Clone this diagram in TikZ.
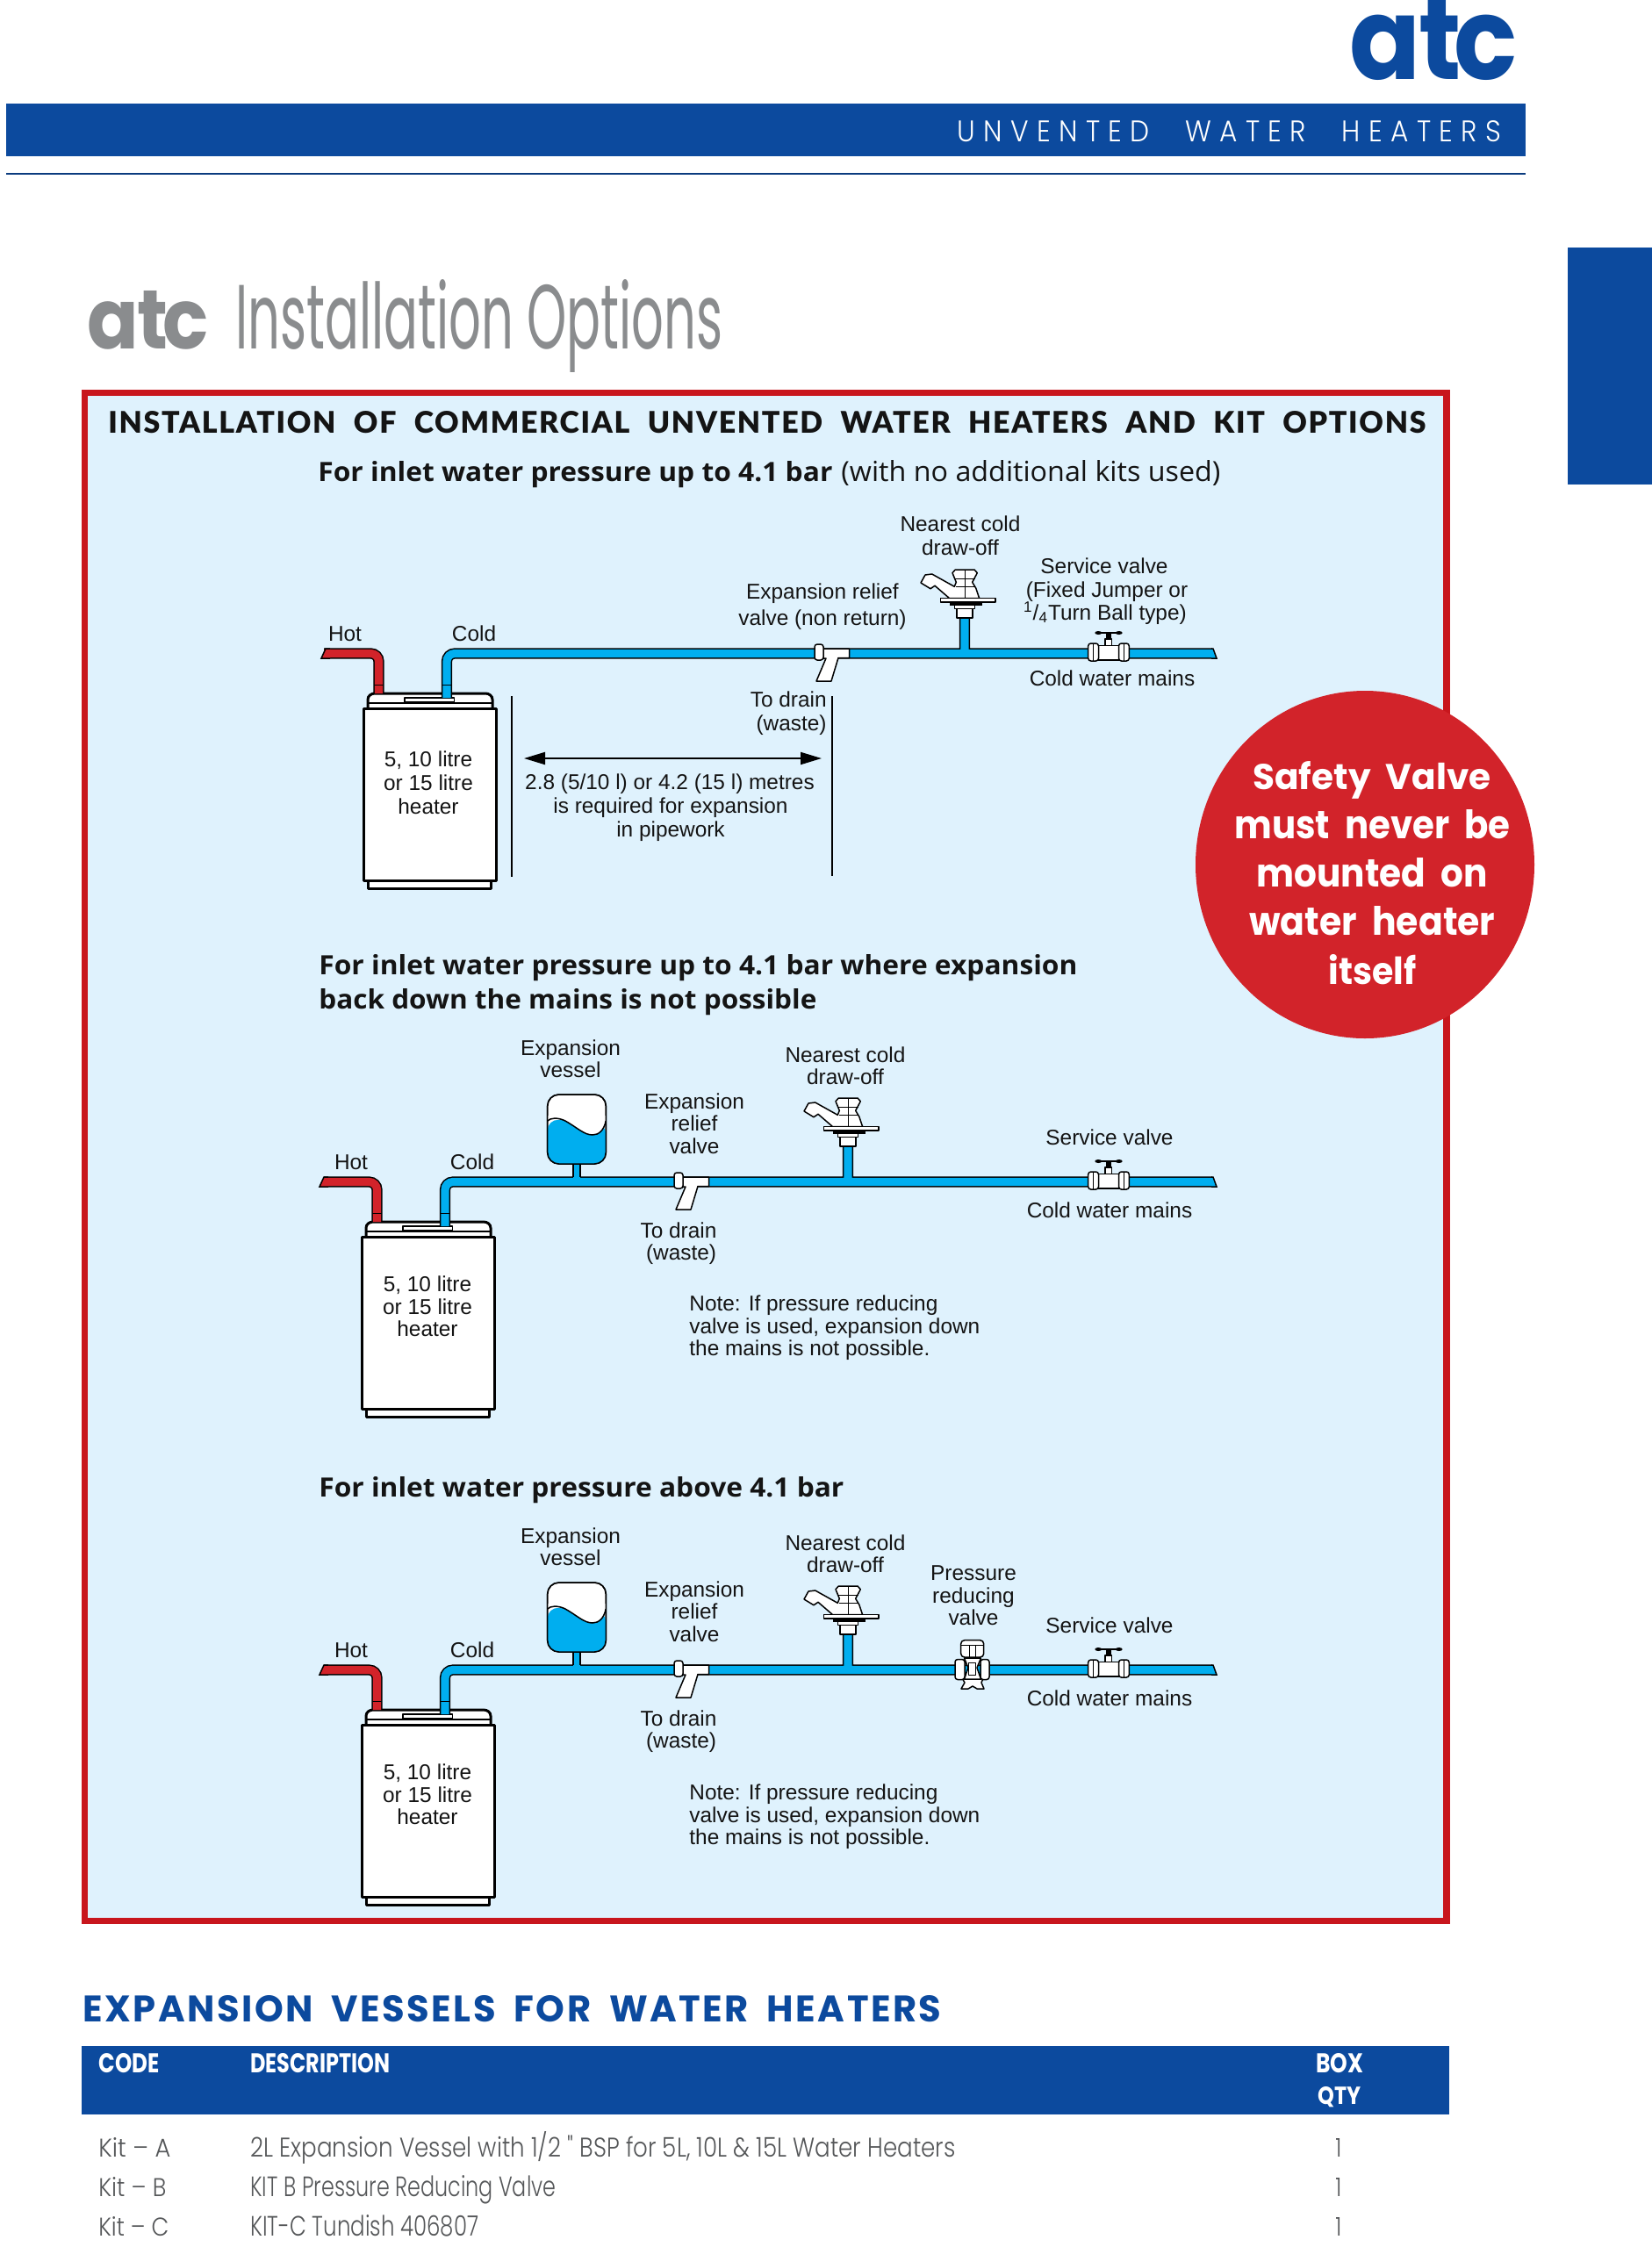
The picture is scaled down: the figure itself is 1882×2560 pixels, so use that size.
\documentclass[tikz,border=0pt]{standalone}
\usepackage{fontspec}
\usepackage{graphicx}
\usetikzlibrary{arrows.meta}
\setmainfont{Liberation Sans}
\newfontfamily\labf{Liberation Sans}
\newfontfamily\popn{Poppins}
\newfontfamily\popl{Poppins Light}
\newfontfamily\popls[LetterSpace=30]{Poppins Light}
\newfontfamily\popsp[LetterSpace=6]{Poppins}
\newfontfamily\headf{Open Sans}
\newfontfamily\latoblk[LetterSpace=5]{Lato Black}
\newlength\pxu \setlength\pxu{0.5pt}
\newcommand\ft[3]{\resizebox{#1\pxu}{#2\pxu}{#3}}
\newcommand\mylab[4]{\node[lbl] (#1) at (#2,#3) {#4};}
\newcommand\wg[1]{\hspace*{#1em}}
\definecolor{atcblue}{HTML}{0C4A9E}
\definecolor{framered}{HTML}{C8161D}
\definecolor{discred}{HTML}{D2232A}
\definecolor{panel}{HTML}{DFF2FD}
\definecolor{water}{HTML}{00AEEF}
\definecolor{hotred}{HTML}{D2232A}
\definecolor{greytxt}{HTML}{8A8C8E}
\definecolor{bodytxt}{HTML}{555759}
\tikzset{
 lbl/.style={inner sep=0,anchor=base,text=black!92,font={\labf\fontsize{12.2}{13}\selectfont}},
 fitw/.style={inner sep=0,anchor=base west},
 part/.style={draw=black,fill=white,line width=0.75pt,line join=round},
 tank/.style={draw=black,fill=white,line width=1.5pt,line join=round},
 coldpipe/.style={line width=0.75pt,draw=black,double=water,double distance=4.6pt,rounded corners=4.5pt},
 hotpipe/.style={line width=0.75pt,draw=black,double=hotred,double distance=4.6pt,rounded corners=4.5pt},
 thinln/.style={draw=black,line width=0.6pt},
 heater/.pic={
  \draw[tank] (419,68) -- (419,58) to[out=90,in=180] (427,51) -- (553,51) to[out=0,in=90] (561,58) -- (561,68);
  \draw[part] (461,56) rectangle (517.5,61);
  \draw[line width=0.6pt] (419,62) -- (561,62);
  \draw[tank] (414,68) rectangle (565,264);
  \draw[tank] (419,264) rectangle (559,273);
 },
 faucet/.pic={
  \draw[part] (-9,-46) rectangle (9,-35);
  \draw[part] (-11.7,-50) rectangle (11.7,-45.7);
  \draw[draw=black,fill=black] (-17,-53) rectangle (19,-50);
  \draw[part] (-10.7,-90) -- (11,-90) -- (14.3,-86.3) -- (8.7,-75.7) -- (12.7,-69) -- (16.7,-57.3)
     -- (-17.3,-57.3) -- (-34,-71.7) -- (-39,-68.3) -- (-50,-75) -- (-45,-84) -- (-37.3,-85)
     -- (-11.7,-70.7) -- (-9.7,-75.7) -- (-14,-86.3) -- cycle;
  \draw[line width=0.4pt] (0,-90) -- (0,-58) (-12,-80) -- (12,-80) (-10,-71) -- (11,-71);
  \draw[part] (-27.3,-57.3) rectangle (35,-53);
 },
 reliefv/.pic={
  \draw[part] (9,0) -- (39.5,0) -- (39.5,10.5) -- (27,10.5) -- (19,37) -- (2,37) -- (13,11) -- (9,11) -- cycle;
  \draw[part,rounded corners=1.5pt] (0,-5) rectangle (10,13);
 },
 svalve/.pic={
  \draw[part] (-4,-11) rectangle (3.5,-3);
  \draw[fill=black,draw=black] (-2.3,-19) rectangle (2.3,-10.7);
  \draw[line width=0.6pt] (-11.7,-18) -- (11.7,-18);
  \fill[black] (-11.7,-18) ellipse [x radius=2pt,y radius=1pt] (11.7,-18) ellipse [x radius=2pt,y radius=1pt];
  \draw[part] (-15,-3.5) rectangle (15,13);
  \draw[part,rounded corners=1.5pt] (-23.3,-6) rectangle (-11.5,14);
  \draw[part,rounded corners=1.5pt] (11.5,-6) rectangle (23.3,14);
  \draw[line width=0.5pt] (-17.5,-6) -- (-17.5,14) (17.5,-6) -- (17.5,14);
 },
 prvalve/.pic={
  \draw[part] (-13,13) -- (-9,20) -- (-13,27) -- (-5,27) -- (0,24) -- (5,27) -- (13,27) -- (10,20) -- (13,13) -- cycle;
  \draw[part,rounded corners=1.5pt] (-20,-6.5) rectangle (-9,16.5);
  \draw[part,rounded corners=1.5pt] (9,-6.5) rectangle (19,16.5);
  \draw[part] (-9.5,-8) -- (9.5,-8) -- (5,3) -- (9.5,16) -- (-9.5,16) -- (-5,3) -- cycle;
  \draw[part] (-4.3,-2.7) rectangle (3.3,11.7);
  \draw[part,rounded corners=2pt] (-13.3,-28.3) rectangle (12.7,-9);
  \draw[line width=0.5pt] (-13.3,-23) -- (12.7,-23) (-3.5,-23) -- (-3.5,-9) (3,-23) -- (3,-9);
 },
 vesselp/.pic={
  \fill[water] (-4,-16) rectangle (4,1);
  \draw[line width=0.75pt] (-4,-15) -- (-4,0) (4,-15) -- (4,0);
  \draw[part,rounded corners=6.5pt] (-33.3,-94) rectangle (33.3,-15);
  \fill[water,rounded corners=6.5pt] (-33.3,-66) -- (-33.3,-15) -- (33.3,-15) -- (33.3,-62) -- cycle;
  \fill[white] (-33.2,-64) .. controls (-30,-67.5) and (-22,-68) .. (-14,-64.5) -- (18,-47.5) -- (33.2,-64) -- (33.2,-70) -- (-33.2,-70) -- cycle;
  \fill[white] (-14,-64.5) .. controls (0,-57) and (8,-48) .. (18,-48) .. controls (25,-48) and (31,-53) .. (33.2,-64) -- cycle;
  \draw[line width=0.75pt,rounded corners=6.5pt] (-33.3,-94) rectangle (33.3,-15);
  \draw[line width=0.75pt] (-33.2,-64) .. controls (-30,-67.5) and (-22,-68) .. (-14,-64.5) .. controls (0,-57) and (8,-48) .. (18,-48) .. controls (25,-48) and (31,-53) .. (33.2,-64);
 },
}
\newcommand\heatrun[4]{%
  \pic at (#2,#3) {heater};
  \coordinate (#1hs) at (369,#3+5.5);
  \coordinate (#1hc) at (#2+431.5,#3+5.5);
  \coordinate (#1he) at (#2+431.5,#3+51);
  \coordinate (#1cs) at (#2+509,#3+56);
  \coordinate (#1cc) at (#2+509,#3+5.5);
  \coordinate (#1ce) at (1381,#3+5.5);
  \draw[hotpipe] (#1hs) -- (#1hc) -- (#1he);
  \draw[coldpipe] (#1cs) -- (#1cc) -- (#1ce) #4;
  \fill[hotred] (#2+371,#3) -- (#2+366,#3+11) -- (#2+376,#3+11) -- (#2+376,#3) -- cycle;
  \draw[line width=0.75pt] (#2+376,#3) -- (#2+371,#3) -- (#2+366,#3+11) -- (#2+376,#3+11);
  \fill[water] (1380,#3) -- (1382,#3) -- (1386,#3+11) -- (1380,#3+11) -- cycle;
  \draw[line width=0.75pt] (1380,#3) -- (1382,#3) -- (1386,#3+11) -- (1380,#3+11);
  \draw[line width=0.5pt] (#2+426,#3+41) -- (#2+437,#3+41) (#2+503.5,#3+41) -- (#2+514.5,#3+41);
}
\begin{document}
\begin{tikzpicture}[x=0.5pt,y=-0.5pt]
\useasboundingbox (0,0) rectangle (1882,2560);
\fill[white] (0,0) rectangle (1882,2560);

% page header
\fill[atcblue] (7,118) rectangle (1738,178);
\fill[atcblue!80!black] (7,197) rectangle (1738,199);
\fill[atcblue] (1786,282) rectangle (1882,552);
\node[fitw,text=atcblue] (logo) at (1537,90) {\ft{191}{90}{\popn\bfseries a\kern-.02em t\kern-.07em c}};
\node[fitw,text=white] (strap) at (1090,161) {\ft{620}{24}{\popls UNVENTED\wg{1.3}WATER\wg{1.3}HEATERS}};
\node[fitw,text=greytxt] (glogo) at (99,397) {\ft{138}{66}{\popn\bfseries a\kern-.02em t\kern-.07em c}};
\node[fitw,text=greytxt] (gtitle) at (268,397) {\ft{555}{79}{\popn Installation Options}};

% panel
\draw[draw=framered,fill=panel,line width=3.75pt] (96.5,447.5) rectangle (1648,2188.5);
\node[fitw,text=black!92] (mainhead) at (123,493) {\ft{1501}{25}{\latoblk INSTALLATION\wg{.6}OF\wg{.6}COMMERCIAL\wg{.6}UNVENTED\wg{.6}WATER\wg{.6}HEATERS\wg{.6}AND\wg{.6}KIT\wg{.6}OPTIONS}};
\node[fitw,text=black!92] (h1a) at (362,548) {\ft{586}{23}{\headf\bfseries For inlet water pressure up to 4.1 bar}};
\node[fitw,text=black!92] (h1b) at (958,548) {\ft{432}{24}{\headf (with no additional kits used)}};
\node[fitw,text=black!92] (h2a) at (363,1110) {\ft{864}{23}{\headf\bfseries For inlet water pressure up to 4.1 bar where expansion}};
\node[fitw,text=black!92] (h2b) at (363,1149) {\ft{567}{23}{\headf\bfseries back down the mains is not possible}};
\node[fitw,text=black!92] (h3) at (363,1705) {\ft{598}{23}{\headf\bfseries For inlet water pressure above 4.1 bar}};

% run 1
\coordinate (fa1t) at (1099,704); \coordinate (fa1b) at (1099,744);
\heatrun{a}{0}{739}{(fa1t) -- (fa1b)}
\pic at (928,739) {reliefv};
\pic at (1099,739) {faucet};
\pic at (1263,739) {svalve};
\mylab{a1}{393}{730}{Hot}
\mylab{a2}{540}{730}{Cold}
\mylab{a3}{1094}{605}{Nearest cold}
\mylab{a4}{1094}{632}{draw-off}
\mylab{a5}{1258}{653}{Service valve}
\mylab{a6}{1261}{680}{(Fixed Jumper or}
\mylab{a7}{1259}{706}{\textsuperscript{1}/\textsubscript{4}Turn Ball type)}
\mylab{a8}{1267}{781}{Cold water mains}
\mylab{a9}{937}{682}{Expansion relief}
\mylab{a10}{937}{712}{valve (non return)}
\node[lbl,anchor=base east] (a11) at (942,805) {To drain};
\node[lbl,anchor=base east] (a12) at (942,832) {(waste)};
\mylab{a13}{488}{873}{5, 10 litre}
\mylab{a14}{488}{900}{or 15 litre}
\mylab{a15}{488}{927}{heater}
\mylab{a16}{763}{899}{2.8 (5/10 l) or 4.2 (15 l) metres}
\mylab{a17}{764}{926}{is required for expansion}
\mylab{a18}{764}{953}{in pipework}
\coordinate (dl1) at (583,793); \coordinate (dl2) at (583,999);
\coordinate (dr1) at (948,793); \coordinate (dr2) at (948,998);
\coordinate (da) at (597,864); \coordinate (db) at (936,864);
\draw[thinln] (dl1) -- (dl2) (dr1) -- (dr2);
\draw[line width=1pt,{Triangle[length=12pt,width=7pt]}-{Triangle[length=12pt,width=7pt]}] (da) -- (db);

% run 2
\coordinate (fa2t) at (966,1306); \coordinate (fa2b) at (966,1346);
\heatrun{b}{-2}{1341}{(fa2t) -- (fa2b)}
\pic at (657,1341) {vesselp};
\pic at (768,1341) {reliefv};
\pic at (966,1341) {faucet};
\pic at (1263,1341) {svalve};
\mylab{b1}{400}{1332}{Hot}
\mylab{b2}{538}{1332}{Cold}
\mylab{b3}{650}{1202}{Expansion}
\mylab{b4}{650}{1227}{vessel}
\mylab{b5}{963}{1210}{Nearest cold}
\mylab{b6}{963}{1235}{draw-off}
\mylab{b7}{791}{1263}{Expansion}
\mylab{b8}{791}{1288}{relief}
\mylab{b9}{791}{1314}{valve}
\mylab{b10}{773}{1410}{To drain}
\mylab{b11}{776}{1435}{(waste)}
\mylab{b12}{1264}{1304}{Service valve}
\mylab{b13}{1264}{1387}{Cold water mains}
\mylab{b14}{487}{1471}{5, 10 litre}
\mylab{b15}{487}{1497}{or 15 litre}
\mylab{b16}{487}{1522}{heater}
\node[lbl,anchor=base west] (b17) at (785,1493) {Note: If pressure reducing};
\node[lbl,anchor=base west] (b18) at (785,1519) {valve is used, expansion down};
\node[lbl,anchor=base west] (b19) at (785,1544) {the mains is not possible.};

% run 3
\coordinate (fa3t) at (966,1862); \coordinate (fa3b) at (966,1902);
\heatrun{c}{-2}{1897}{(fa3t) -- (fa3b)}
\pic at (657,1897) {vesselp};
\pic at (768,1897) {reliefv};
\pic at (966,1897) {faucet};
\pic at (1108,1897) {prvalve};
\pic at (1263,1897) {svalve};
\mylab{c1}{400}{1888}{Hot}
\mylab{c2}{538}{1888}{Cold}
\mylab{c3}{650}{1758}{Expansion}
\mylab{c4}{650}{1783}{vessel}
\mylab{c5}{963}{1766}{Nearest cold}
\mylab{c6}{963}{1791}{draw-off}
\mylab{c7}{791}{1819}{Expansion}
\mylab{c8}{791}{1844}{relief}
\mylab{c9}{791}{1870}{valve}
\mylab{c10}{773}{1966}{To drain}
\mylab{c11}{776}{1991}{(waste)}
\mylab{c12}{1109}{1800}{Pressure}
\mylab{c13}{1109}{1826}{reducing}
\mylab{c14}{1109}{1851}{valve}
\mylab{c15}{1264}{1860}{Service valve}
\mylab{c16}{1264}{1943}{Cold water mains}
\mylab{c17}{487}{2027}{5, 10 litre}
\mylab{c18}{487}{2053}{or 15 litre}
\mylab{c19}{487}{2078}{heater}
\node[lbl,anchor=base west] (c20) at (785,2050) {Note: If pressure reducing};
\node[lbl,anchor=base west] (c21) at (785,2076) {valve is used, expansion down};
\node[lbl,anchor=base west] (c22) at (785,2101) {the mains is not possible.};

% safety disc
\fill[discred] (1555,985) ellipse [x radius=96.5pt,y radius=99pt];
\node[fitw,text=white] (s1) at (1427,899) {\ft{271}{32}{\popn\bfseries Safety\wg{.42}Valve}};
\node[fitw,text=white] (s2) at (1406,955) {\ft{314}{33}{\popn\bfseries must\wg{.42}never\wg{.42}be}};
\node[fitw,text=white] (s3) at (1431,1010) {\ft{263}{33}{\popn\bfseries mounted\wg{.42}on}};
\node[fitw,text=white] (s4) at (1423,1065) {\ft{280}{33}{\popn\bfseries water\wg{.42}heater}};
\node[fitw,text=white] (s5) at (1513,1121) {\ft{100}{34}{\popn\bfseries itself}};

% table
\node[fitw,text=atcblue] (vh) at (94,2303) {\ft{978}{30}{\popsp\bfseries EXPANSION\wg{.5}VESSELS\wg{.5}FOR\wg{.5}WATER\wg{.5}HEATERS}};
\fill[atcblue] (93,2331) rectangle (1651,2409);
\node[fitw,text=white] (th1) at (112,2361) {\ft{69}{22}{\popn\bfseries CODE}};
\node[fitw,text=white] (th2) at (285,2361) {\ft{159}{22}{\popn\bfseries DESCRIPTION}};
\node[fitw,text=white] (th3) at (1499,2361) {\ft{54}{22}{\popn\bfseries BOX}};
\node[fitw,text=white] (th4) at (1501,2397) {\ft{49}{20}{\popn\bfseries QTY}};
\node[fitw,text=bodytxt] (r1a) at (112,2457) {\ft{82}{22}{\popl Kit – A}};
\node[fitw,text=bodytxt] (r1b) at (285,2457) {\ft{803}{29}{\popl 2L Expansion Vessel with 1/2 " BSP for 5L, 10L \& 15L Water Heaters}};
\node[fitw,text=bodytxt] (r1c) at (1521,2457) {\ft{7}{21}{\popl 1}};
\node[fitw,text=bodytxt] (r2a) at (112,2502) {\ft{77}{22}{\popl Kit – B}};
\node[fitw,text=bodytxt] (r2b) at (285,2502) {\ft{348}{24}{\popl KIT B Pressure Reducing Valve}};
\node[fitw,text=bodytxt] (r2c) at (1521,2502) {\ft{7}{21}{\popl 1}};
\node[fitw,text=bodytxt] (r3a) at (112,2547) {\ft{80}{22}{\popl Kit – C}};
\node[fitw,text=bodytxt] (r3b) at (285,2547) {\ft{260}{24}{\popl KIT-C Tundish 406807}};
\node[fitw,text=bodytxt] (r3c) at (1521,2547) {\ft{7}{21}{\popl 1}};
\end{tikzpicture}
\end{document}
